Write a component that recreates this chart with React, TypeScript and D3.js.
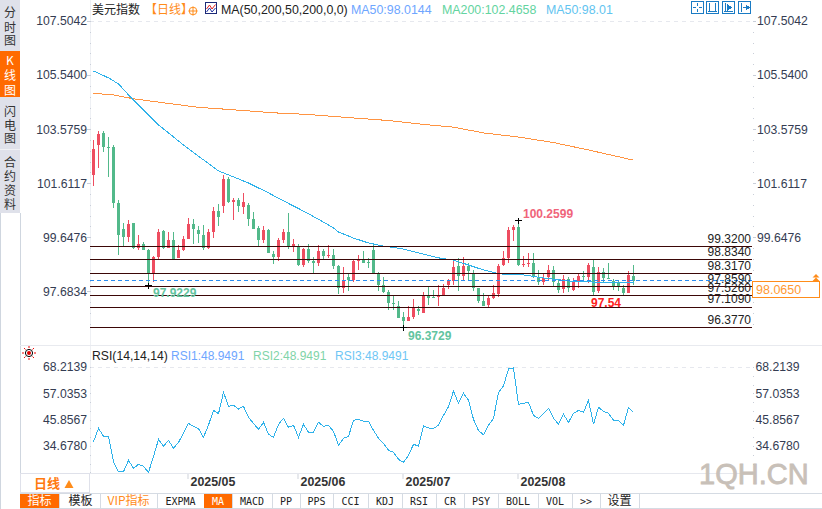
import React from "react";
import * as d3 from "d3";

const opens = [101.91,103.00,103.44,102.93,102.93,100.89,99.95,99.65,100.16,99.25,99.40,99.19,98.30,98.92,99.88,99.27,99.55,98.91,99.19,99.60,100.13,99.91,99.73,99.25,99.85,100.60,100.80,101.77,100.93,100.99,100.76,100.82,100.30,99.99,99.55,99.91,99.04,98.92,99.55,99.84,99.28,99.31,98.65,99.22,98.79,98.70,99.15,98.96,99.00,98.60,97.80,98.20,98.09,98.79,98.86,98.75,99.19,98.35,97.91,97.66,97.26,97.15,96.75,96.60,96.75,97.04,96.89,97.51,97.48,97.48,97.55,97.91,98.06,98.60,98.24,98.60,98.31,97.80,97.33,97.19,97.44,97.59,98.64,98.90,99.91,100.02,98.64,98.68,98.71,98.17,98.02,98.20,98.46,97.98,97.77,98.13,97.73,98.02,98.24,98.20,98.57,97.69,98.39,98.17,98.06,97.98,97.80,97.62,98.24];
const closes = [102.86,103.40,102.91,102.91,100.91,99.73,99.67,100.13,99.25,99.40,99.19,98.30,98.92,99.84,99.25,99.55,98.85,99.19,99.59,100.13,99.94,99.77,99.25,99.84,100.60,100.40,101.77,100.94,100.99,100.80,100.93,100.31,99.95,99.55,99.91,99.09,98.94,99.55,99.84,99.28,99.40,98.64,99.22,98.77,98.71,99.15,98.97,99.00,98.60,97.80,98.09,98.09,98.79,98.82,98.71,98.71,98.35,97.91,97.66,97.26,97.22,96.71,96.60,96.75,97.11,96.97,97.55,97.44,97.44,97.55,97.80,98.06,98.57,98.24,98.60,98.42,97.80,97.33,97.15,97.44,97.62,98.60,98.90,99.91,100.02,98.64,98.68,98.71,98.20,98.02,98.17,98.46,98.02,97.73,98.13,97.80,98.02,98.24,98.20,98.64,97.66,98.39,98.17,98.13,97.84,97.84,97.62,98.28,98.06];
const highs = [103.19,103.51,103.51,103.29,103.00,100.99,100.18,100.28,100.18,99.73,99.48,99.22,98.97,99.95,99.91,99.85,99.84,99.36,99.69,100.35,100.30,100.06,100.09,99.95,100.76,100.85,101.91,101.83,101.07,101.09,101.25,100.88,100.58,100.06,100.06,99.95,99.16,99.62,99.95,100.52,99.58,99.40,99.26,99.40,98.93,99.37,99.22,99.37,99.22,98.64,98.57,98.35,98.86,99.00,99.15,98.90,99.40,98.38,98.20,97.73,97.55,97.33,96.93,97.15,97.40,97.15,97.66,97.84,97.73,97.91,97.95,98.13,98.82,98.90,98.93,98.71,98.46,97.80,97.62,97.55,97.91,98.68,99.15,100.02,100.09,100.26,98.97,99.08,99.08,98.46,98.35,98.64,98.60,98.09,98.28,98.20,98.17,98.31,98.42,98.71,98.82,98.57,98.53,98.71,98.13,98.09,97.91,98.42,98.64];
const lows = [101.52,102.18,102.76,101.85,100.71,99.00,99.34,99.49,99.22,99.19,99.19,97.92,98.03,98.85,99.22,99.25,98.85,98.90,99.15,99.58,99.40,99.45,99.19,99.21,99.61,100.06,100.52,100.91,100.28,100.56,100.49,100.06,99.94,99.33,99.45,99.07,98.68,98.80,99.45,99.22,99.12,98.60,98.58,98.70,98.35,98.61,98.86,98.88,98.49,97.59,97.62,97.69,98.02,98.46,98.71,98.53,98.35,97.69,97.62,97.00,97.00,96.70,96.37,96.60,96.68,96.82,96.89,97.19,97.44,97.15,97.51,97.77,97.91,97.69,98.09,98.09,97.69,97.26,97.15,97.08,97.40,97.48,98.60,98.71,99.51,98.60,98.57,98.57,98.17,97.91,97.91,98.09,97.84,97.62,97.62,97.66,97.69,97.80,98.02,97.98,97.55,97.62,97.98,98.13,97.73,97.69,97.55,97.62,97.91];

const ma50Index = [0,3,5,7,10,13,15,18,22,25,28,31,35,38,42,46,48,49,52,55,58,62,65,69,72,75,78,81,83,86,90,95,100,105,107,108];
const ma50Values = [105.69,105.44,105.22,104.82,104.28,103.73,103.44,103.00,102.46,102.06,101.84,101.62,101.26,100.97,100.60,100.20,99.99,99.84,99.62,99.44,99.33,99.22,99.08,98.90,98.82,98.64,98.46,98.33,98.28,98.28,98.17,98.06,98.02,97.99,97.99,98.01];
const ma200Index = [0,4,8,15,21,28,36,43,50,59,66,72,78,85,92,99,108];
const ma200Values = [104.88,104.82,104.68,104.51,104.37,104.28,104.17,104.11,104.01,103.89,103.75,103.65,103.44,103.29,103.09,102.82,102.45];

const rsiValues = [36.52,42.18,38.79,38.79,28.03,23.79,23.79,28.60,25.21,26.90,26.05,23.51,30.16,37.51,34.54,37.09,33.69,36.24,40.06,44.30,43.03,42.04,38.36,43.60,49.82,48.41,57.46,51.52,51.94,50.39,51.52,46.85,44.30,41.76,44.73,39.64,38.36,43.88,46.43,42.61,43.46,38.36,43.88,40.48,40.48,44.73,43.03,43.46,40.91,34.97,37.94,38.79,45.58,46.00,45.15,45.15,41.33,37.94,35.82,32.84,32.00,29.02,27.75,30.72,35.39,34.68,43.17,42.32,42.18,43.46,47.70,51.38,58.03,52.79,57.04,54.21,46.00,41.19,39.49,43.46,46.43,57.32,60.15,67.37,67.79,52.37,52.79,53.22,47.70,46.43,48.55,50.67,46.43,43.88,48.12,44.73,48.55,49.82,48.97,54.07,43.88,51.10,49.40,48.55,45.58,45.58,43.46,51.10,48.97];

const priceTicks = [107.5042,105.54,103.5759,101.6117,99.6476,97.6834];
const rightPriceTicks = [107.5042,105.54,103.5759,101.6117,99.6476];
const rsiTicks = [68.2139,57.0353,45.8567,34.678];
const levelLines = [99.32,98.834,98.317,97.859,97.526,97.109,96.377];
const lastPrice = 98.065;

const monthLabels = ["2025/05","2025/06","2025/07","2025/08"];
const monthIndex = [19,41,62,85];

const bottomTabs = ["指标","模板","VIP指标","EXPMA","MA","MACD","PP","PPS","CCI","KDJ","RSI","CR","PSY","BOLL","VOL",">>","设置"];
const tabEdges = [20,59,100,157,204,232,272,300,333,368,402,436,464,498,538,572,600,639];

const sideTabs = [
  { chars: ["分","时","图"], ys: [13,28,41] },
  { chars: ["K","线","图"], ys: [61,76,91] },
  { chars: ["闪","电","图"], ys: [112,126,139] },
  { chars: ["合","约","资","料"], ys: [163,177,191,205] },
];

const W = 822, H = 509;
const LEFT = 90, RIGHT = 753;
const x = d3.scaleLinear().domain([0,108]).range([93.5,633.5]);
const y = d3.scaleLinear().domain([99.32,96.377]).range([246.3,327.3]);
const ry = d3.scaleLinear().domain([68.2139,34.678]).range([367,446]);

const RED = "#ee4d60", GREEN = "#52b98a";
const BLUE = "#2fb2ea", ORANGE = "#ff9442", DARK = "#3b0707";
const AX = "#343c52";
const SANS = "'Liberation Sans', Arial, sans-serif";
const CJK = "'Noto Sans CJK SC', sans-serif";
const MONO = "'DejaVu Sans Mono', monospace";

function T(p: any) {
  const { x, y, children, size = 12.2, fill = AX, anchor = "start", family = SANS, weight = 400, ...rest } = p;
  return <text x={x} y={y + size * 0.36} fontSize={size} fill={fill} textAnchor={anchor} fontFamily={family} fontWeight={weight} {...rest}>{children}</text>;
}

function Marker({ i, v }: { i: number; v: number }) {
  const cx = x(i), cy = Math.round(y(v)) + 0.5;
  return (
    <g stroke="#000" strokeWidth={1} shapeRendering="crispEdges">
      <line x1={cx - 3.5} x2={cx + 3.5} y1={cy} y2={cy} />
      <line x1={cx} x2={cx} y1={cy - 3} y2={cy + 3} />
    </g>
  );
}

function IconBtn({ px, kind }: { px: number; kind: number }) {
  const c = "#1a7bc4";
  const cx = px + 6.5, cy = 7.5;
  return (
    <g shapeRendering="crispEdges">
      <rect x={px + 0.5} y={1.5} width={12} height={12} fill="#fff" stroke={c} />
      {kind === 0 && <path d={`M${cx} 3V6M${cx} 9V12M${px + 2} ${cy}H${px + 5}M${px + 8} ${cy}H${px + 11}`} stroke={c} fill="none" />}
      {kind === 1 && <path d={`M${px + 3.5} 3V12M${px + 9.5} 3V12M${px + 2} 11.5H${px + 11}`} stroke={c} fill="none" />}
      {kind === 2 && <><path d={`M${px + 3.5} 3V12M${px + 2} 11.5H${px + 11}`} stroke={c} fill="none" /><path d={`M${px + 5} 4L${px + 10} ${cy}L${px + 5} 11Z`} fill={c} /></>}
      {kind === 3 && <><path d={`M${px + 3.5} 3V12`} stroke={c} fill="none" /><path d={`M${px + 5} ${cy}H${px + 8}M${px + 8} 5L${px + 11} ${cy}L${px + 8} 10Z`} stroke={c} fill={c} /></>}
    </g>
  );
}

export default function App() {
  const ma50 = d3.line<number>().x((_, k) => x(ma50Index[k])).y(d => y(d))(ma50Values) as string;
  const ma200 = d3.line<number>().x((_, k) => x(ma200Index[k])).y(d => y(d))(ma200Values) as string;
  const rsi = d3.line<number>().x((_, k) => x(k)).y(d => ry(d))(rsiValues) as string;

  const priceStep = (priceTicks[0] - priceTicks[1]) / 5;
  const priceMinor = d3.range(0, 29).map(k => y(priceTicks[0] - k * priceStep)).filter(p => p < 344);
  const rsiStep = (rsiTicks[0] - rsiTicks[1]) / 3;
  const rsiMinor = d3.range(0, 13).map(k => ry(rsiTicks[0] - k * rsiStep)).filter(p => p < 473);

  return (
    <svg width={W} height={H} viewBox={`0 0 ${W} ${H}`} style={{ position: "absolute", left: 0, top: 0, background: "#fff" }}>
      {/* side tabs */}
      <rect x={0} y={0} width={20} height={213} fill="#dfe1ea" />
      <rect x={0} y={51} width={20} height={46} fill="#ff6a00" />
      <rect x={0} y={149} width={20} height={1} fill="#f0f1f5" />
      <path d="M0.5 213V509M20.5 213V509" stroke="#cfd6df" fill="none" />
      {sideTabs.map((t, a) => t.chars.map((c, b) => (
        <T key={`${a}-${b}`} x={10} y={t.ys[b]} size={12} anchor="middle" family={CJK} fill={a === 1 ? "#fff" : "#333"}>{c}</T>
      )))}

      {/* axes furniture */}
      <line x1={LEFT + 0.5} x2={LEFT + 0.5} y1={0} y2={473} stroke="#eef0f4" />
      <line x1={20} x2={W} y1={345.5} y2={345.5} stroke="#e8eaef" />
      <line x1={20} x2={750} y1={473.5} y2={473.5} stroke="#e6e8ee" />
      <line x1={LEFT} x2={RIGHT} y1={21.5} y2={21.5} stroke="#e6e8ee" strokeDasharray="4 4" />
      <line x1={LEFT} x2={RIGHT} y1={367.5} y2={367.5} stroke="#e6e8ee" strokeDasharray="4 4" />
      {priceMinor.concat(rsiMinor).map((p, k) => (
        <g key={k} fill="#c9ced8">
          <rect x={LEFT} y={Math.round(p)} width={1} height={1} />
          <rect x={RIGHT} y={Math.round(p)} width={1} height={1} />
        </g>
      ))}
      {priceTicks.map(t => (
        <g key={t}>
          <line x1={87} x2={LEFT} y1={Math.round(y(t)) + 0.5} y2={Math.round(y(t)) + 0.5} stroke="#c9ced8" />
          <T x={87} y={y(t)} anchor="end">{t.toFixed(4)}</T>
        </g>
      ))}
      {rightPriceTicks.map(t => (
        <g key={t}>
          <line x1={RIGHT} x2={756} y1={Math.round(y(t)) + 0.5} y2={Math.round(y(t)) + 0.5} stroke="#c9ced8" />
          <T x={757} y={y(t)}>{t.toFixed(4)}</T>
        </g>
      ))}
      {rsiTicks.map(t => (
        <g key={t}>
          <T x={87} y={ry(t)} anchor="end">{t.toFixed(4)}</T>
          <T x={755.5} y={ry(t)}>{t.toFixed(4)}</T>
        </g>
      ))}

      {/* candles */}
      <g shapeRendering="crispEdges">
        {opens.map((o, i) => {
          const c = closes[i];
          const col = c >= o ? RED : GREEN;
          const top = y(Math.max(o, c)), bot = y(Math.min(o, c));
          return (
            <g key={i}>
              <rect x={x(i) - 0.5} y={y(highs[i])} width={1} height={y(lows[i]) - y(highs[i])} fill={col} />
              <rect x={x(i) - 1.5} y={top} width={3} height={Math.max(1, bot - top)} fill={col} />
            </g>
          );
        })}
      </g>

      {/* moving averages */}
      <path d={ma200} fill="none" stroke={ORANGE} strokeWidth={1} shapeRendering="crispEdges" />
      <path d={ma50} fill="none" stroke={BLUE} strokeWidth={1} shapeRendering="crispEdges" />

      {/* level lines */}
      <line x1={LEFT} x2={RIGHT} y1={y(lastPrice)} y2={y(lastPrice)} stroke="#2a8cf0" strokeDasharray="4 3" shapeRendering="crispEdges" />
      {levelLines.map(v => (
        <g key={v}>
          <line x1={LEFT} x2={RIGHT - 1} y1={y(v)} y2={y(v)} stroke={DARK} strokeWidth={1} shapeRendering="crispEdges" />
          <T x={751} y={y(v) - 8} anchor="end" size={12} fill="#222">{v.toFixed(4)}</T>
        </g>
      ))}

      {/* extremes */}
      <Marker i={85} v={100.2599} />
      <Marker i={11} v={97.9229} />
      <Marker i={62} v={96.3729} />
      <T x={523} y={214} size={12} fill="#f0647a" weight={700}>100.2599</T>
      <T x={153} y={292.7} size={12} fill="#62c4a0" weight={700}>97.9229</T>
      <T x={408} y={335.5} size={12} fill="#62c4a0" weight={700}>96.3729</T>
      <T x={591} y={303} size={12} fill="#ff2020" weight={700}>97.54</T>

      {/* last price tag */}
      <rect x={752.5} y={281.5} width={67} height={16} fill="#fff" stroke="#ff8c1a" />
      <T x={756} y={289.5} size={12.5} fill="#ff9a33">98.0650</T>
      <path d="M816 274l3.5 3.5h-7zM816 277.5l3.5 3.5h-7z" fill="#ff8c1a" />

      {/* main legend */}
      <T x={92} y={9.5} size={12} family={CJK} fill="#222">美元指数</T>
      <T x={145} y={9.5} size={12} family={CJK} fill="#ff8c1a">【日线】</T>
      <circle cx={193} cy={11} r={3.8} fill="none" stroke="#ff8c1a" />
      <path d="M188.5 11H197.5M193 6.5V15.5" stroke="#ff8c1a" />
      <rect x={205.5} y={2.5} width={11} height={11} fill="#fff" stroke="#1c2a78" />
      <path d="M206.5 9L209.5 5L212 9L215.5 4.5" stroke="#e02020" fill="none" />
      <path d="M206.5 12L209.5 8L212 12L215.5 8" stroke="#2030a0" fill="none" />
      <T x={221} y={9.5} size={12.4} fill="#222">MA(50,200,50,200,0,0)</T>
      <T x={351} y={9.5} size={12.4} fill="#6ea6ff">MA50:98.0144</T>
      <T x={442} y={9.5} size={12.4} fill="#63d4a0">MA200:102.4658</T>
      <T x={546} y={9.5} size={12.4} fill="#62c4f0">MA50:98.01</T>
      {[691,706,722,738].map((px, k) => <IconBtn key={px} px={px} kind={k} />)}

      {/* RSI */}
      <circle cx={29} cy={353} r={3.6} fill="#fff" stroke="#000" />
      <circle cx={29} cy={353} r={2} fill="#e00000" />
      <g stroke="#f00000">
        {d3.range(0, 8).map(k => {
          const a = k * Math.PI / 4;
          return <line key={k} x1={29 + Math.cos(a) * 5} y1={353 + Math.sin(a) * 5} x2={29 + Math.cos(a) * 7} y2={353 + Math.sin(a) * 7} />;
        })}
      </g>
      <T x={92} y={355.5} fill="#222">RSI(14,14,14)</T>
      <T x={171} y={355.5} size={12} fill="#6ea6ff">RSI1:48.9491</T>
      <T x={253} y={355.5} size={12} fill="#7fd4a8">RSI2:48.9491</T>
      <T x={335} y={355.5} size={12} fill="#6ec6f5">RSI3:48.9491</T>
      <path d={rsi} fill="none" stroke={BLUE} strokeWidth={1} shapeRendering="crispEdges" />

      {/* time axis */}
      <rect x={20.5} y={473.5} width={69} height={19} fill="#fff" stroke="#dfe1ea" />
      <T x={34} y={483} size={13} family={CJK} fill="#ff7a10" weight={700}>日线</T>
      <path d="M64.5 488L69 480L73.5 488Z" fill="#ff8c1a" />
      {monthLabels.map((m, k) => (
        <g key={m}>
          <line x1={x(monthIndex[k]) - 0.5} x2={x(monthIndex[k]) - 0.5} y1={474} y2={479} stroke="#cfd3db" />
          <T x={x(monthIndex[k]) + 2} y={481.5} size={12.4} weight={700} fill="#333">{m}</T>
        </g>
      ))}

      {/* watermark */}
      <text x={699} y={484} fontSize={29} fontFamily={SANS} fill="#c8c0b8" stroke="#c8c0b8" strokeWidth={0.8}>1QH.CN</text>

      {/* bottom tabs */}
      <line x1={20} x2={W} y1={493.5} y2={493.5} stroke="#d5dbe3" />
      <line x1={20} x2={W} y1={508.5} y2={508.5} stroke="#d5dbe3" />
      {bottomTabs.map((t, k) => {
        const a = tabEdges[k], b = tabEdges[k + 1];
        const active = t === "指标" || t === "MA";
        const hasCjk = /[\u4e00-\u9fff]/.test(t);
        const fill = active ? "#fff" : t === "VIP指标" ? "#ff8c1a" : "#222";
        return (
          <g key={t}>
            {active && <rect x={a} y={494} width={b - a} height={14} fill="#ff6a00" />}
            <line x1={b + 0.5} x2={b + 0.5} y1={494} y2={508} stroke="#d5dbe3" />
            <T x={(a + b) / 2 + (k === 1 ? 1 : 0)} y={501} size={hasCjk ? 12 : 10} anchor="middle" family={hasCjk ? CJK : MONO} fill={fill}>{t}</T>
          </g>
        );
      })}
    </svg>
  );
}
